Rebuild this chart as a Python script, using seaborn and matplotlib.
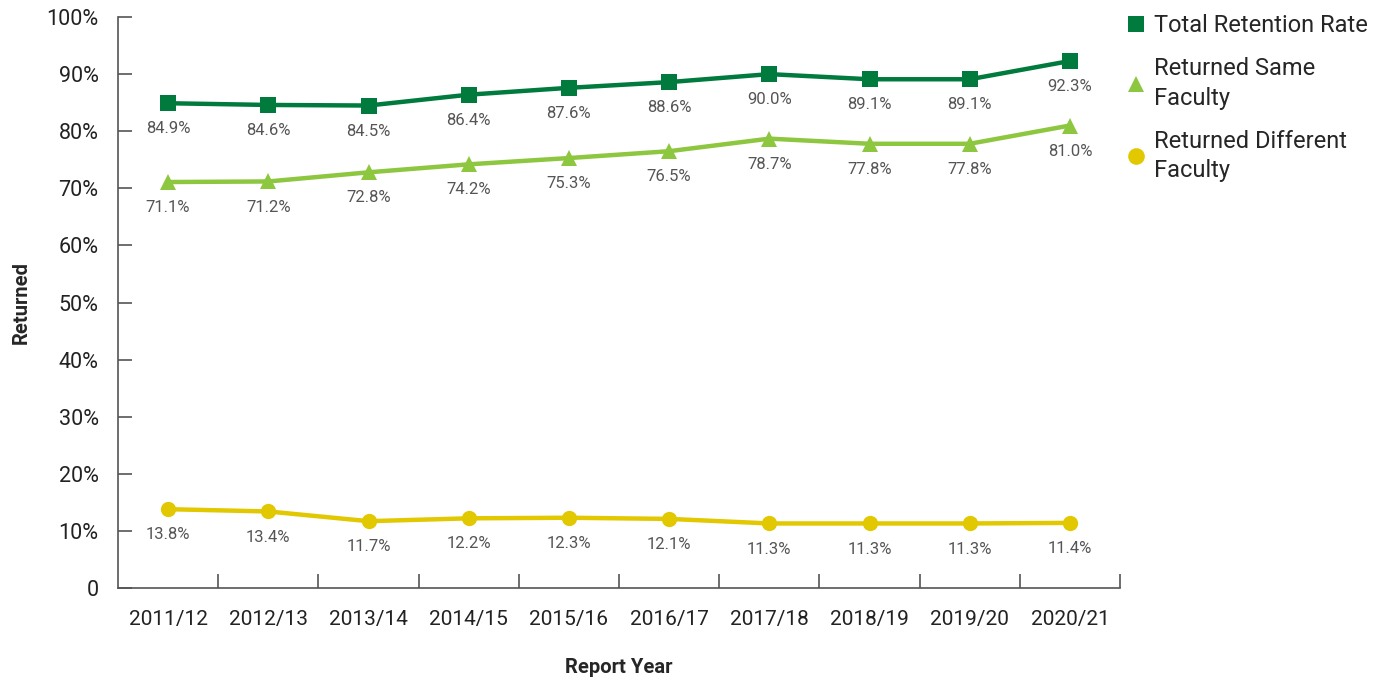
import matplotlib
matplotlib.use("Agg")
import matplotlib.pyplot as plt
from matplotlib.ticker import FixedLocator, FuncFormatter
import seaborn as sns
import pandas as pd
import numpy as np

years = ["2011/12", "2012/13", "2013/14", "2014/15", "2015/16",
         "2016/17", "2017/18", "2018/19", "2019/20", "2020/21"]
total = [84.9, 84.6, 84.5, 86.4, 87.6, 88.6, 90.0, 89.1, 89.1, 92.3]
same = [71.1, 71.2, 72.8, 74.2, 75.3, 76.5, 78.7, 77.8, 77.8, 81.0]
diff = [13.8, 13.4, 11.7, 12.2, 12.3, 12.1, 11.3, 11.3, 11.3, 11.4]
series_names = ["Total Retention Rate", "Returned Same\nFaculty", "Returned Different\nFaculty"]
colors = ["#007A3D", "#8DC63F", "#E2C800"]
markers = ["s", "^", "o"]

sns.set_theme(style="white")
plt.rcParams['font.family'] = ['Roboto', 'DejaVu Sans']

rows = []
for name, vals in zip(series_names, [total, same, diff]):
    for i, v in enumerate(vals):
        rows.append({"idx": i, "Year": years[i], "value": v, "series": name})
df = pd.DataFrame(rows)

fig = plt.figure(figsize=(13.9, 6.81), dpi=100)
ax = fig.add_axes([0.0849, 0.1366, 0.7209, 0.8384])

sns.lineplot(data=df, x="idx", y="value", hue="series", style="series",
             hue_order=series_names, style_order=series_names,
             palette=colors, markers=dict(zip(series_names, markers)),
             dashes=False, linewidth=3.2, markersize=11, markeredgewidth=0,
             ax=ax, legend=True)

for name, vals in zip(series_names, [total, same, diff]):
    for i, v in enumerate(vals):
        ax.annotate(f"{v:.1f}%", (i, v), xytext=(0, -13), textcoords="offset points",
                    ha="center", va="top", fontsize=12, color="#555555")

ax.set_xlim(-0.5, 9.5)
ax.set_ylim(0, 100)
ax.set_xticks(range(len(years)))
ax.set_xticklabels(years, fontsize=15, color="#222222")
ax.xaxis.set_minor_locator(FixedLocator(np.arange(0.5, 10, 1.0)))
ax.tick_params(axis="x", which="major", length=0, pad=16, bottom=True)
ax.tick_params(axis="x", which="minor", length=10, direction="in", color="#555555",
               width=1.2, bottom=True)
ax.set_yticks(range(0, 101, 10))
ax.yaxis.set_major_formatter(FuncFormatter(lambda v, p: "0" if v == 0 else f"{int(v)}%"))
ax.tick_params(axis="y", which="major", length=10, direction="in", color="#555555",
               width=1.2, labelsize=15.5, labelcolor="#222222", pad=14, left=True)

for s in ["top", "right"]:
    ax.spines[s].set_visible(False)
for s in ["left", "bottom"]:
    ax.spines[s].set_color("#555555")
    ax.spines[s].set_linewidth(1.2)

ax.set_xlabel("Report Year", fontsize=14.5, fontweight="bold", labelpad=21)
ax.set_ylabel("Returned", fontsize=14.5, fontweight="bold", labelpad=11)

handles, labels = ax.get_legend_handles_labels()
for h in handles:
    h.set_linestyle("none")
    h.set_markersize(12)
leg = ax.legend(handles, labels, loc="upper left", bbox_to_anchor=(0.991, 1.034),
                frameon=False, fontsize=17, handlelength=0.75, handletextpad=0.35,
                labelspacing=0.85, borderaxespad=0.3)
for t in leg.get_texts():
    t.set_linespacing(1.35)

fig.savefig("out.png", dpi=100)
